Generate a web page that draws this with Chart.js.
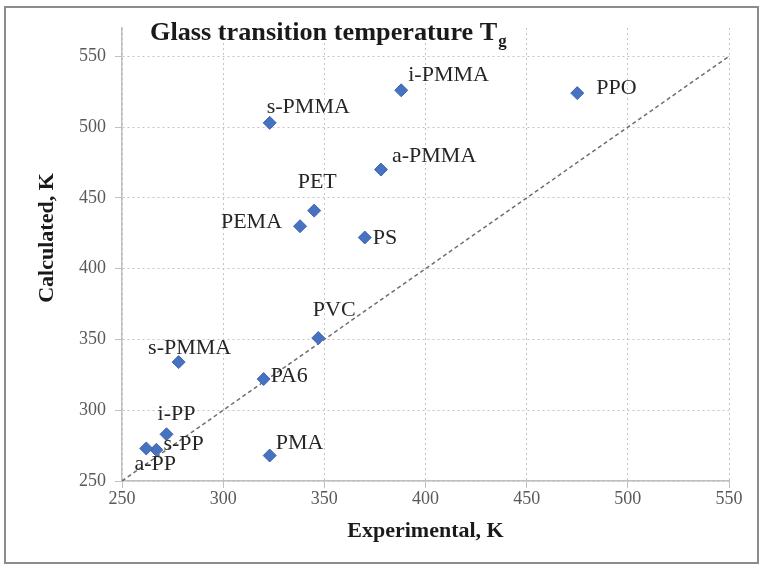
<!DOCTYPE html>
<html>
<head>
<meta charset="utf-8">
<script src="https://cdn.jsdelivr.net/npm/chart.js@4/dist/chart.umd.min.js"></script>
<style>
  html, body { margin: 0; padding: 0; background: #ffffff; }
  #wrap { position: relative; width: 763px; height: 570px; }
  canvas { display: block; }
</style>
</head>
<body>
<div id="wrap"><canvas id="c" width="763" height="570"></canvas></div>
<script>
// ---- data ----
const polymerNames = ['i-PMMA', 'PPO', 's-PMMA', 'a-PMMA', 'PET', 'PEMA', 'PS', 'PVC', 's-PMMA', 'PA6', 'i-PP', 's-PP', 'a-PP', 'PMA'];
const experimentalK = [388, 475, 323, 378, 345, 338, 370, 347, 278, 320, 272, 267, 262, 323];
const calculatedK  = [526, 524, 503, 470, 441, 430, 422, 351, 334, 322, 283, 272, 273, 268];
const parityLine = [250, 550];
const axisTicks = [250, 300, 350, 400, 450, 500, 550];
const chartTitle = 'Glass transition temperature T';
const chartTitleSub = 'g';
const xAxisTitle = 'Experimental, K';
const yAxisTitle = 'Calculated, K';

// label placement (style only): [dx, dy, align]
const labelPlacement = [
  [7, -15, 'left'], [19, -5, 'left'], [-3, -16, 'left'], [11, -13, 'left'],
  [3, -28, 'center'], [-18, -4, 'right'], [8, 1, 'left'], [16, -28, 'center'],
  [11, -14, 'center'], [7, -3, 'left'], [10, -20, 'center'], [7, -6, 'left'],
  [9, 16, 'center'], [6, -12, 'left']
];

const serif = '"Liberation Serif", "Times New Roman", serif';

const pointData = experimentalK.map((x, i) => ({ x: x, y: calculatedK[i] }));
const lineData = parityLine.map(v => ({ x: v, y: v }));

const decorPlugin = {
  id: 'decor',
  beforeDraw(chart) {
    const ctx = chart.ctx;
    ctx.save();
    ctx.fillStyle = '#ffffff';
    ctx.fillRect(0, 0, chart.width, chart.height);
    ctx.strokeStyle = '#8c8c8c';
    ctx.lineWidth = 2;
    ctx.strokeRect(5, 7, chart.width - 10, chart.height - 14);
    ctx.restore();
  },
  afterDatasetsDraw(chart) {
    const ctx = chart.ctx;
    const area = chart.chartArea;
    ctx.save();
    // point labels
    const meta = chart.getDatasetMeta(1);
    ctx.font = '22px ' + serif;
    ctx.fillStyle = '#262626';
    ctx.textBaseline = 'middle';
    meta.data.forEach((pt, i) => {
      const p = labelPlacement[i];
      ctx.textAlign = p[2];
      ctx.fillText(polymerNames[i], pt.x + p[0], pt.y + p[1]);
    });
    // title (slightly widened like the reference)
    ctx.save();
    ctx.textAlign = 'left';
    ctx.textBaseline = 'alphabetic';
    ctx.fillStyle = '#1a1a1a';
    ctx.translate(area.left + 28, area.top + 12);
    ctx.scale(1.05, 1);
    ctx.font = 'bold 25px ' + serif;
    ctx.fillText(chartTitle, 0, 0);
    const w = ctx.measureText(chartTitle).width;
    ctx.font = 'bold 16px ' + serif;
    ctx.fillText(chartTitleSub, w + 1, 6);
    ctx.restore();
    // y axis title
    ctx.save();
    ctx.translate(area.left - 75, area.top + 210);
    ctx.rotate(-Math.PI / 2);
    ctx.textAlign = 'center';
    ctx.textBaseline = 'middle';
    ctx.fillStyle = '#1a1a1a';
    ctx.font = 'bold 22px ' + serif;
    ctx.fillText(yAxisTitle, 0, 0);
    ctx.restore();
    ctx.restore();
  }
};

new Chart(document.getElementById('c'), {
  type: 'scatter',
  data: {
    datasets: [
      {
        type: 'line',
        data: lineData,
        borderColor: '#6e6e6e',
        borderWidth: 1.5,
        borderDash: [4, 3],
        pointRadius: 0,
        fill: false,
        order: 2
      },
      {
        data: pointData,
        pointStyle: 'rectRot',
        pointRadius: 6.5,
        pointHoverRadius: 6.5,
        backgroundColor: '#4672c0',
        borderColor: '#3f68b3',
        borderWidth: 1,
        order: 1
      }
    ]
  },
  options: {
    responsive: false,
    animation: false,
    events: [],
    layout: { padding: { top: 28, right: 34, left: 0, bottom: 0 } },
    plugins: { legend: { display: false }, tooltip: { enabled: false } },
    scales: {
      x: {
        type: 'linear',
        min: 250, max: 550,
        afterBuildTicks: s => { s.ticks = axisTicks.map(v => ({ value: v })); },
        afterFit: s => { s.height = 89; },
        ticks: { color: '#595959', font: { family: serif, size: 18 }, padding: 0 },
        grid: { color: '#c4c4c4', tickLength: 7, tickColor: '#bfbfbf', tickBorderDash: [] },
        border: { display: true, color: '#bfbfbf', width: 1.5, dash: [2, 3] },
        title: { display: true, text: xAxisTitle, color: '#1a1a1a', font: { family: serif, size: 22, weight: 'bold' }, padding: { top: 0, bottom: 25 } }
      },
      y: {
        type: 'linear',
        min: 250, max: 570,
        afterBuildTicks: s => { s.ticks = axisTicks.map(v => ({ value: v })); },
        afterFit: s => { s.width = 122; },
        ticks: { color: '#595959', font: { family: serif, size: 18 }, padding: 9 },
        grid: { color: '#c4c4c4', tickLength: 7, tickColor: '#bfbfbf', tickBorderDash: [] },
        border: { display: true, color: '#bfbfbf', width: 1.5, dash: [2, 3] }
      }
    }
  },
  plugins: [decorPlugin]
});
</script>
</body>
</html>
